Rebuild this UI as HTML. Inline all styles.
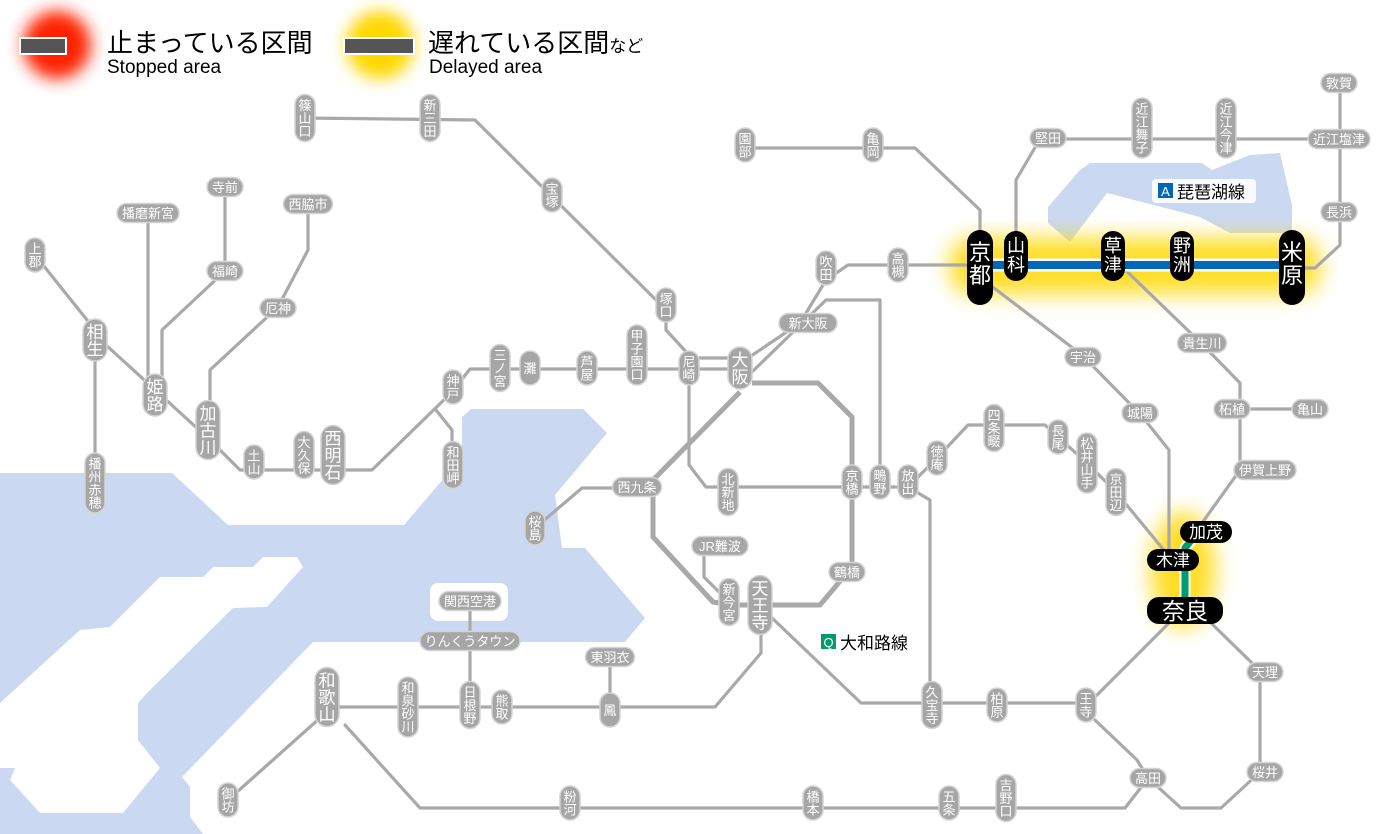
<!DOCTYPE html>
<html><head><meta charset="utf-8">
<style>
html,body{margin:0;padding:0;background:#fff;}
svg{display:block;font-family:"Liberation Sans","Noto Sans CJK JP",sans-serif;}
.l{fill:none;stroke:#a9a9a9;stroke-width:3.2;stroke-linejoin:round;stroke-linecap:round}
.lw{fill:none;stroke:#a9a9a9;stroke-width:5;stroke-linejoin:round}
.s{fill:#a6a6a6;stroke:#d4d4d4;stroke-width:1.5}
.t{fill:#fff;font-size:13px;text-anchor:middle}
.tb{fill:#fff;font-size:17px;text-anchor:middle}
.k{fill:#000}
.kt{fill:#fff;text-anchor:middle}
</style></head><body>
<svg width="1400" height="834" viewBox="0 0 1400 834" xmlns="http://www.w3.org/2000/svg">
<defs>
<filter id="bl" x="-50%" y="-50%" width="200%" height="200%"><feGaussianBlur stdDeviation="11"/></filter>
<filter id="bl2" x="-50%" y="-50%" width="200%" height="200%"><feGaussianBlur stdDeviation="8"/></filter>
</defs>
<!-- water -->
<polygon fill="#cad8f1" points="0,473 172,473 228,525 404,525 462,457 462,417 471,409 583,409 607,433 555,495 562,548 585,548 645,618 625,642 313,642 182,777 190,787 190,817 203,834 0,834"/>
<polygon fill="#fff" points="0,703 80,630 110,627 160,577 203,577 213,567 253,567 263,557 297,557 303,567 267,607 233,608 147,693 138,703 138,740 160,768 123,813 40,813 10,780 15,768 0,768"/>
<rect x="430" y="583" width="78" height="38" rx="8" fill="#fff"/>
<polygon fill="#cad8f1" points="1048,207 1080,170 1090,163 1202,163 1212,170 1250,155 1280,153 1292,205 1292,233 1230,233 1200,217 1107,193 1070,242 1048,223"/>
<!-- glows -->
<circle cx="57" cy="45" r="34" fill="#ff2200" filter="url(#bl2)"/>
<circle cx="380" cy="45" r="34" fill="#ffd800" filter="url(#bl2)"/>
<rect x="950" y="238" width="370" height="56" rx="22" fill="#ffd800" opacity="0.85" filter="url(#bl)"/>
<ellipse cx="1183" cy="570" rx="32" ry="58" fill="#ffd800" opacity="0.85" filter="url(#bl)"/>
<!-- legend -->
<rect x="19" y="37" width="48" height="18" fill="#fff"/><rect x="21" y="39" width="44" height="14" fill="#555"/>
<rect x="343" y="37" width="72" height="18" fill="#fff"/><rect x="345" y="39" width="68" height="14" fill="#555"/>
<text x="107" y="52" font-size="26" fill="#000">止まっている区間</text>
<text x="107" y="73" font-size="19" fill="#000">Stopped area</text>
<text x="428" y="52" font-size="26" fill="#000">遅れている区間<tspan font-size="17">など</tspan></text>
<text x="429" y="73" font-size="19" fill="#000">Delayed area</text>
<!-- lines -->
<polyline class="l" points="305,118 475,120 666,310 666,330 689,355"/>
<polyline class="l" points="95,335 210,440 240,470 372,470 452,392 470,369 740,369"/>
<polyline class="l" points="689,358 740,358"/>
<polyline class="l" points="35,255 95,330"/>
<polyline class="l" points="95,340 95,483"/>
<polyline class="l" points="148,213 148,390"/>
<polyline class="l" points="225,187 225,271 162,330 162,390"/>
<polyline class="l" points="308,204 308,250 278,307 210,370 210,420"/>
<polyline class="l" points="436,410 452,430 452,465"/>
<polyline class="l" points="689,368 689,465 706,487 908,487"/>
<polyline class="l" points="745,360 800,323 826,280 848,265 980,265"/>
<polyline class="l" points="752,372 790,335 826,300 880,300 880,482"/>
<polyline class="lw" points="752,383 818,383 852,417 852,567 820,605 733,605"/>
<polyline class="lw" points="653,480 653,537 713,602 733,605"/>
<polyline class="lw" points="653,480 740,392"/>
<polyline class="l" points="704,553 704,577 720,593 729,602"/>
<polyline class="l" points="535,528 582,488 637,488"/>
<polyline class="l" points="908,487 930,500 930,705"/>
<polyline class="l" points="908,487 937,458 968,425 1045,425 1058,437 1087,463 1116,492 1172,560"/>
<polyline class="l" points="771,617 861,703 1086,703"/>
<polyline class="l" points="1169,623 1095,697"/>
<polyline class="l" points="1095,720 1137,760 1148,778 1139,790 1125,808 420,808 345,725"/>
<polyline class="l" points="761,620 761,653 715,707 327,707"/>
<polyline class="l" points="610,657 610,707"/>
<polyline class="l" points="470,601 470,705"/>
<polyline class="l" points="320,718 228,800"/>
<polyline class="l" points="1211,623 1252,663 1260,672 1260,772 1221,808 1181,808 1148,778"/>
<polyline class="l" points="990,285 1082,355 1141,415 1169,450 1169,560"/>
<polyline class="l" points="745,148 915,148 980,210 980,265"/>
<polyline class="l" points="1016,258 1016,180 1040,139 1340,139"/>
<polyline class="l" points="1340,83 1340,245 1315,268 1292,268"/>
<polyline class="l" points="1113,258 1200,342 1240,383 1240,470 1202,523"/>
<polyline class="l" points="1232,409 1310,409"/>
<!-- biwako / yamatoji colored -->
<line x1="980" y1="265" x2="1292" y2="265" stroke="#fff" stroke-width="13"/>
<line x1="980" y1="265" x2="1292" y2="265" stroke="#0068b7" stroke-width="8"/>
<polyline points="1198,532 1185,548 1185,600" fill="none" stroke="#fff" stroke-width="11" stroke-linejoin="round"/>
<polyline points="1198,532 1185,548 1185,600" fill="none" stroke="#009b6e" stroke-width="7" stroke-linejoin="round"/>
<!-- route labels -->
<rect x="1152" y="179" width="104" height="24" rx="4" fill="#fff" opacity="0.9"/>
<rect x="1158" y="183" width="15" height="15" fill="#0068b7"/>
<text x="1165.5" y="196" font-size="13" fill="#fff" text-anchor="middle">A</text>
<text x="1177" y="198" font-size="17" fill="#000">琵琶湖線</text>
<rect x="815" y="630" width="100" height="24" rx="4" fill="#fff" opacity="0.9"/>
<rect x="821" y="634" width="15" height="15" fill="#009b6e"/>
<text x="828.5" y="647" font-size="13" fill="#fff" text-anchor="middle">Q</text>
<text x="840" y="649" font-size="17" fill="#000">大和路線</text>

<!-- vertical stations f13 -->
<g>
<rect class="s" x="295" y="94.5" width="20" height="47" rx="10"/><text class="t" x="305" y="110">篠<tspan x="305" dy="13">山</tspan><tspan x="305" dy="13">口</tspan></text>
<rect class="s" x="420" y="94.5" width="20" height="47" rx="10"/><text class="t" x="430" y="110">新<tspan x="430" dy="13">三</tspan><tspan x="430" dy="13">田</tspan></text>
<rect class="s" x="542" y="178" width="20" height="34" rx="10"/><text class="t" x="552" y="193.5">宝<tspan x="552" dy="13">塚</tspan></text>
<rect class="s" x="735" y="128" width="20" height="34" rx="10"/><text class="t" x="745" y="143.5">園<tspan x="745" dy="13">部</tspan></text>
<rect class="s" x="863" y="128" width="20" height="34" rx="10"/><text class="t" x="873" y="143.5">亀<tspan x="873" dy="13">岡</tspan></text>
<rect class="s" x="816" y="251" width="20" height="34" rx="10"/><text class="t" x="826" y="266.5">吹<tspan x="826" dy="13">田</tspan></text>
<rect class="s" x="888" y="248" width="20" height="34" rx="10"/><text class="t" x="898" y="263.5">高<tspan x="898" dy="13">槻</tspan></text>
<rect class="s" x="656" y="288" width="20" height="34" rx="10"/><text class="t" x="666" y="303.5">塚<tspan x="666" dy="13">口</tspan></text>
<rect class="s" x="627" y="325" width="20" height="60" rx="10"/><text class="t" x="637" y="340.5">甲<tspan x="637" dy="13">子</tspan><tspan x="637" dy="13">園</tspan><tspan x="637" dy="13">口</tspan></text>
<rect class="s" x="679" y="351" width="20" height="34" rx="10"/><text class="t" x="689" y="366.5">尼<tspan x="689" dy="13">崎</tspan></text>
<rect class="s" x="577" y="351" width="20" height="34" rx="10"/><text class="t" x="587" y="366.5">芦<tspan x="587" dy="13">屋</tspan></text>
<rect class="s" x="520" y="351" width="20" height="34" rx="10"/><text class="t" x="530" y="373">灘</text>
<rect class="s" x="490" y="344.5" width="20" height="47" rx="10"/><text class="t" x="500" y="360">三<tspan x="500" dy="13">ノ</tspan><tspan x="500" dy="13">宮</tspan></text>
<rect class="s" x="443" y="370" width="20" height="34" rx="10"/><text class="t" x="453" y="385.5">神<tspan x="453" dy="13">戸</tspan></text>
<rect class="s" x="443" y="441.5" width="20" height="47" rx="10"/><text class="t" x="453" y="457">和<tspan x="453" dy="13">田</tspan><tspan x="453" dy="13">岬</tspan></text>
<rect class="s" x="294" y="431.5" width="20" height="47" rx="10"/><text class="t" x="304" y="447">大<tspan x="304" dy="13">久</tspan><tspan x="304" dy="13">保</tspan></text>
<rect class="s" x="244" y="445" width="20" height="34" rx="10"/><text class="t" x="254" y="460.5">土<tspan x="254" dy="13">山</tspan></text>
<rect class="s" x="25" y="238" width="20" height="34" rx="10"/><text class="t" x="35" y="253.5">上<tspan x="35" dy="13">郡</tspan></text>
<rect class="s" x="85" y="453" width="20" height="60" rx="10"/><text class="t" x="95" y="468.5">播<tspan x="95" dy="13">州</tspan><tspan x="95" dy="13">赤</tspan><tspan x="95" dy="13">穂</tspan></text>
<rect class="s" x="525" y="511" width="20" height="34" rx="10"/><text class="t" x="535" y="526.5">桜<tspan x="535" dy="13">島</tspan></text>
<rect class="s" x="718" y="468.5" width="20" height="47" rx="10"/><text class="t" x="728" y="484">北<tspan x="728" dy="13">新</tspan><tspan x="728" dy="13">地</tspan></text>
<rect class="s" x="842" y="465" width="20" height="34" rx="10"/><text class="t" x="852" y="480.5">京<tspan x="852" dy="13">橋</tspan></text>
<rect class="s" x="870" y="465" width="20" height="34" rx="10"/><text class="t" x="880" y="480.5">鴫<tspan x="880" dy="13">野</tspan></text>
<rect class="s" x="898" y="465" width="20" height="34" rx="10"/><text class="t" x="908" y="480.5">放<tspan x="908" dy="13">出</tspan></text>
<rect class="s" x="927" y="441" width="20" height="34" rx="10"/><text class="t" x="937" y="456.5">徳<tspan x="937" dy="13">庵</tspan></text>
<rect class="s" x="984" y="404.5" width="20" height="47" rx="10"/><text class="t" x="994" y="420">四<tspan x="994" dy="13">条</tspan><tspan x="994" dy="13">畷</tspan></text>
<rect class="s" x="1048" y="420" width="20" height="34" rx="10"/><text class="t" x="1058" y="435.5">長<tspan x="1058" dy="13">尾</tspan></text>
<rect class="s" x="1077" y="433" width="20" height="60" rx="10"/><text class="t" x="1087" y="448.5">松<tspan x="1087" dy="13">井</tspan><tspan x="1087" dy="13">山</tspan><tspan x="1087" dy="13">手</tspan></text>
<rect class="s" x="1106" y="468.5" width="20" height="47" rx="10"/><text class="t" x="1116" y="484">京<tspan x="1116" dy="13">田</tspan><tspan x="1116" dy="13">辺</tspan></text>
<rect class="s" x="719" y="578.5" width="20" height="47" rx="10"/><text class="t" x="729" y="594">新<tspan x="729" dy="13">今</tspan><tspan x="729" dy="13">宮</tspan></text>
<rect class="s" x="922" y="681.5" width="20" height="47" rx="10"/><text class="t" x="932" y="697">久<tspan x="932" dy="13">宝</tspan><tspan x="932" dy="13">寺</tspan></text>
<rect class="s" x="987" y="688" width="20" height="34" rx="10"/><text class="t" x="997" y="703.5">柏<tspan x="997" dy="13">原</tspan></text>
<rect class="s" x="1076" y="688" width="20" height="34" rx="10"/><text class="t" x="1086" y="703.5">王<tspan x="1086" dy="13">寺</tspan></text>
<rect class="s" x="996" y="774.5" width="20" height="47" rx="10"/><text class="t" x="1006" y="790">吉<tspan x="1006" dy="13">野</tspan><tspan x="1006" dy="13">口</tspan></text>
<rect class="s" x="939" y="786" width="20" height="34" rx="10"/><text class="t" x="949" y="801.5">五<tspan x="949" dy="13">条</tspan></text>
<rect class="s" x="803" y="786" width="20" height="34" rx="10"/><text class="t" x="813" y="801.5">橋<tspan x="813" dy="13">本</tspan></text>
<rect class="s" x="560" y="786" width="20" height="34" rx="10"/><text class="t" x="570" y="801.5">粉<tspan x="570" dy="13">河</tspan></text>
<rect class="s" x="218" y="783" width="20" height="34" rx="10"/><text class="t" x="228" y="798.5">御<tspan x="228" dy="13">坊</tspan></text>
<rect class="s" x="398" y="677" width="20" height="60" rx="10"/><text class="t" x="408" y="692.5">和<tspan x="408" dy="13">泉</tspan><tspan x="408" dy="13">砂</tspan><tspan x="408" dy="13">川</tspan></text>
<rect class="s" x="460" y="681.5" width="20" height="47" rx="10"/><text class="t" x="470" y="697">日<tspan x="470" dy="13">根</tspan><tspan x="470" dy="13">野</tspan></text>
<rect class="s" x="492" y="690" width="20" height="34" rx="10"/><text class="t" x="502" y="705.5">熊<tspan x="502" dy="13">取</tspan></text>
<rect class="s" x="600" y="693" width="20" height="34" rx="10"/><text class="t" x="610" y="715">鳳</text>
<rect class="s" x="1132" y="98" width="20" height="60" rx="10"/><text class="t" x="1142" y="113.5">近<tspan x="1142" dy="13">江</tspan><tspan x="1142" dy="13">舞</tspan><tspan x="1142" dy="13">子</tspan></text>
<rect class="s" x="1216" y="98" width="20" height="60" rx="10"/><text class="t" x="1226" y="113.5">近<tspan x="1226" dy="13">江</tspan><tspan x="1226" dy="13">今</tspan><tspan x="1226" dy="13">津</tspan></text>
</g>
<!-- big vertical f17 -->
<g>
<rect class="s" x="728" y="347" width="24" height="42" rx="12"/><text class="tb" x="740" y="366">大<tspan x="740" dy="17">阪</tspan></text>
<rect class="s" x="321" y="425.5" width="24" height="59" rx="12"/><text class="tb" x="333" y="444.5">西<tspan x="333" dy="17">明</tspan><tspan x="333" dy="17">石</tspan></text>
<rect class="s" x="196" y="400.5" width="24" height="59" rx="12"/><text class="tb" x="208" y="419.5">加<tspan x="208" dy="17">古</tspan><tspan x="208" dy="17">川</tspan></text>
<rect class="s" x="143" y="374" width="24" height="42" rx="12"/><text class="tb" x="155" y="393">姫<tspan x="155" dy="17">路</tspan></text>
<rect class="s" x="83" y="319" width="24" height="42" rx="12"/><text class="tb" x="95" y="338">相<tspan x="95" dy="17">生</tspan></text>
<rect class="s" x="748" y="575.5" width="24" height="59" rx="12"/><text class="tb" x="760" y="594.5">天<tspan x="760" dy="17">王</tspan><tspan x="760" dy="17">寺</tspan></text>
<rect class="s" x="315" y="667.5" width="24" height="59" rx="12"/><text class="tb" x="327" y="686.5">和<tspan x="327" dy="17">歌</tspan><tspan x="327" dy="17">山</tspan></text>
</g>
<!-- horizontal stations -->
<g>
<rect class="s" x="779" y="313.5" width="58" height="19" rx="9.5"/><text class="t" x="808" y="328" font-size="14">新大阪</text>
<rect class="s" x="117" y="203.5" width="62" height="19" rx="9.5"/><text class="t" x="148" y="218">播磨新宮</text>
<rect class="s" x="207" y="177.5" width="36" height="19" rx="9.5"/><text class="t" x="225" y="192">寺前</text>
<rect class="s" x="207" y="261.5" width="36" height="19" rx="9.5"/><text class="t" x="225" y="276">福崎</text>
<rect class="s" x="283.5" y="194.5" width="49" height="19" rx="9.5"/><text class="t" x="308" y="209">西脇市</text>
<rect class="s" x="260" y="298.5" width="36" height="19" rx="9.5"/><text class="t" x="278" y="313">厄神</text>
<rect class="s" x="612.5" y="477.5" width="49" height="19" rx="9.5"/><text class="t" x="637" y="492">西九条</text>
<rect class="s" x="692" y="536.5" width="56" height="19" rx="9.5"/><text class="t" x="720" y="551">JR難波</text>
<rect class="s" x="829" y="562.5" width="36" height="19" rx="9.5"/><text class="t" x="847" y="577">鶴橋</text>
<rect class="s" x="1247" y="662.5" width="36" height="19" rx="9.5"/><text class="t" x="1265" y="677">天理</text>
<rect class="s" x="1247" y="762.5" width="36" height="19" rx="9.5"/><text class="t" x="1265" y="777">桜井</text>
<rect class="s" x="1130" y="768.5" width="36" height="19" rx="9.5"/><text class="t" x="1148" y="783">高田</text>
<rect class="s" x="585.5" y="647.5" width="49" height="19" rx="9.5"/><text class="t" x="610" y="662">東羽衣</text>
<rect class="s" x="420" y="631.5" width="100" height="19" rx="9.5"/><text class="t" x="470" y="646">りんくうタウン</text>
<rect class="s" x="439" y="591.5" width="62" height="19" rx="9.5"/><text class="t" x="470" y="606">関西空港</text>
<rect class="s" x="1065" y="347.5" width="36" height="19" rx="9.5"/><text class="t" x="1083" y="362">宇治</text>
<rect class="s" x="1122" y="403.5" width="36" height="19" rx="9.5"/><text class="t" x="1140" y="418">城陽</text>
<rect class="s" x="1177.5" y="333.5" width="49" height="19" rx="9.5"/><text class="t" x="1202" y="348">貴生川</text>
<rect class="s" x="1214" y="399.5" width="36" height="19" rx="9.5"/><text class="t" x="1232" y="414">柘植</text>
<rect class="s" x="1292" y="399.5" width="36" height="19" rx="9.5"/><text class="t" x="1310" y="414">亀山</text>
<rect class="s" x="1234" y="460.5" width="62" height="19" rx="9.5"/><text class="t" x="1265" y="475">伊賀上野</text>
<rect class="s" x="1030" y="128.5" width="36" height="19" rx="9.5"/><text class="t" x="1048" y="143">堅田</text>
<rect class="s" x="1308" y="129.5" width="62" height="19" rx="9.5"/><text class="t" x="1339" y="144">近江塩津</text>
<rect class="s" x="1321" y="73.5" width="36" height="19" rx="9.5"/><text class="t" x="1339" y="88">敦賀</text>
<rect class="s" x="1321" y="202.5" width="36" height="19" rx="9.5"/><text class="t" x="1339" y="217">長浜</text>
</g>
<!-- black affected stations -->
<g>
<rect class="k" x="967" y="230" width="26" height="75" rx="13"/><text class="kt" x="980" y="260" font-size="22">京<tspan x="980" dy="23">都</tspan></text>
<rect class="k" x="1004" y="231" width="24" height="50" rx="12"/><text class="kt" x="1016" y="252" font-size="18">山<tspan x="1016" dy="19">科</tspan></text>
<rect class="k" x="1101" y="231" width="24" height="50" rx="12"/><text class="kt" x="1113" y="252" font-size="18">草<tspan x="1113" dy="19">津</tspan></text>
<rect class="k" x="1170" y="231" width="24" height="50" rx="12"/><text class="kt" x="1182" y="252" font-size="18">野<tspan x="1182" dy="19">洲</tspan></text>
<rect class="k" x="1279" y="230" width="26" height="75" rx="13"/><text class="kt" x="1292" y="260" font-size="22">米<tspan x="1292" dy="23">原</tspan></text>
<rect class="k" x="1180" y="521" width="52" height="22" rx="11"/><text class="kt" x="1206" y="538" font-size="17">加茂</text>
<rect class="k" x="1147" y="549" width="52" height="22" rx="11"/><text class="kt" x="1173" y="566" font-size="17">木津</text>
<rect class="k" x="1147" y="597" width="76" height="27" rx="12"/><text class="kt" x="1185" y="619" font-size="23">奈良</text>
</g>
</svg>
</body></html>
